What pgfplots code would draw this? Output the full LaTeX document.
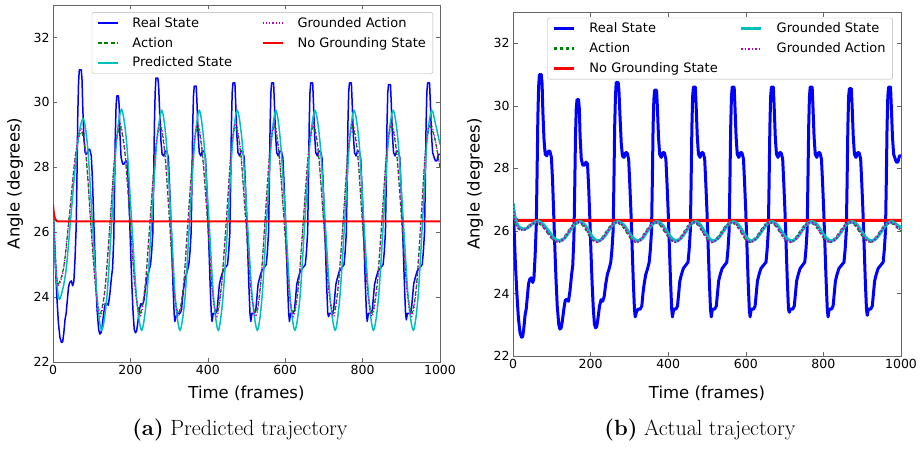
\documentclass[border=0pt]{standalone}
\usepackage{fontspec}
\usepackage{pgfplots}
\usepackage{pgfplotstable}
\pgfplotsset{compat=1.18}
\newfontfamily\dejavu{DejaVu Sans}

\definecolor{mb}{rgb}{0,0,1}
\definecolor{mg}{rgb}{0,0.5,0}
\definecolor{mr}{rgb}{1,0,0}
\definecolor{mc}{rgb}{0,0.75,0.75}
\definecolor{mm}{rgb}{0.75,0,0.75}

% real state (same run in both panels)
\pgfplotstableread{
x y
0 26.85
3 26.0
6 25.0
10 24.0
14 23.2
18 22.75
22 22.6
25 22.62
28 22.9
31 23.3
34 23.5
37 23.9
40 24.3
43 24.45
47 24.5
51 24.35
54 24.5
57 25.2
60 26.2
62 27.8
64 29.6
66 30.6
68 31.0
73 31.0
75 30.7
77 29.8
80 28.9
83 28.45
87 28.4
91 28.55
95 28.55
99 28.35
102 27.6
105 26.5
108 25.4
111 24.4
114 23.6
118 23.0
121 22.86
124 22.9
127 23.1
131 23.5
135 23.8
139 23.8
143 23.75
147 24.1
151 24.6
154 24.9
157 25.8
159 27.3
161 29.0
163 29.9
165 30.2
169 30.2
171 29.9
173 29.0
176 28.3
180 28.1
184 28.1
188 28.2
192 28.15
195 27.4
198 26.4
201 25.3
204 24.3
207 23.5
210 23.0
213 22.9
216 22.95
219 23.2
223 23.6
227 23.8
231 23.75
235 23.9
239 24.3
243 24.6
248 24.8
252 25.0
255 25.4
258 26.0
260 27.5
262 29.3
264 30.3
266 30.75
271 30.75
273 30.5
276 29.6
279 28.8
282 28.4
286 28.35
290 28.5
294 28.5
298 28.3
301 27.5
304 26.6
307 25.5
310 24.4
313 23.5
315 23.25
318 23.4
322 23.5
328 23.5
332 23.6
335 24.0
338 24.3
342 24.6
347 24.8
351 25.0
354 25.4
357 26.0
359 27.5
361 29.3
363 30.2
365 30.5
370 30.5
372 30.0
375 29.0
378 28.45
382 28.35
386 28.5
390 28.5
394 28.3
397 27.5
400 26.6
403 25.5
406 24.4
409 23.5
411 23.25
414 23.5
420 23.5
424 23.6
427 24.0
430 24.4
434 24.6
439 24.8
451 25.0
454 25.4
457 26.0
459 27.5
461 29.3
463 30.3
465 30.6
470 30.6
472 30.0
475 29.0
478 28.45
482 28.35
486 28.5
490 28.5
494 28.3
497 27.5
500 26.6
503 25.5
506 24.4
509 23.5
511 23.25
514 23.5
520 23.5
524 23.6
527 24.0
530 24.4
534 24.6
539 24.8
551 25.0
554 25.4
557 26.0
559 27.5
561 29.3
563 30.3
565 30.6
570 30.6
572 30.0
575 29.0
578 28.45
582 28.35
586 28.5
590 28.5
594 28.3
597 27.5
600 26.6
603 25.5
606 24.4
609 23.5
611 23.25
614 23.5
620 23.5
624 23.6
627 24.0
630 24.4
634 24.6
639 24.8
652 25.0
655 25.4
658 26.0
660 27.5
662 29.3
664 30.3
666 30.6
671 30.6
673 30.0
676 29.0
679 28.45
683 28.35
687 28.5
691 28.5
695 28.3
698 27.5
701 26.6
704 25.5
707 24.4
710 23.5
712 23.4
715 23.5
721 23.5
725 23.6
728 24.0
731 24.4
735 24.6
740 24.8
752 25.0
755 25.4
758 26.0
760 27.5
762 29.3
764 30.3
766 30.6
771 30.6
773 30.0
776 29.0
779 28.45
783 28.35
787 28.5
791 28.5
795 28.3
798 27.5
801 26.6
804 25.5
807 24.4
810 23.5
812 23.25
815 23.5
821 23.5
825 23.6
828 24.0
831 24.4
835 24.6
840 24.8
853 25.0
856 25.4
859 26.0
861 27.5
863 29.3
865 30.3
867 30.55
872 30.55
874 30.0
877 29.0
880 28.45
884 28.35
888 28.5
892 28.5
896 28.3
899 27.5
902 26.6
905 25.5
908 24.4
911 23.5
913 23.3
916 23.5
922 23.5
926 23.6
929 24.0
932 24.4
936 24.6
941 24.8
954 25.0
957 25.4
960 26.0
962 27.5
964 29.3
966 30.3
968 30.6
973 30.6
975 30.0
978 29.0
981 28.45
985 28.3
988 28.2
992 28.2
996 28.4
1000 28.4
}\realstate

% panel (a): predicted state
\pgfplotstableread{
x y
0 26.8
6 25.1
12 24.2
18 23.95
33 24.76
48 26.73
63 28.69
78 29.5
90 28.55
102 26.24
114 23.93
126 22.98
139 23.97
152 26.38
164 28.79
177 29.78
190 28.79
203 26.38
216 23.97
229 22.98
242 23.97
255 26.37
268 28.76
281 29.75
293 28.76
305 26.37
316 23.97
328 22.98
341 23.97
353 26.37
366 28.76
378 29.75
390 28.76
403 26.37
415 23.97
427 22.98
439 23.97
452 26.37
464 28.76
476 29.75
489 28.76
502 26.37
515 23.97
528 22.98
540 23.97
552 26.37
564 28.76
576 29.75
588 28.76
601 26.37
613 23.97
625 22.98
638 23.97
651 26.37
664 28.76
677 29.75
690 28.76
703 26.37
716 23.97
729 22.98
741 23.97
754 26.37
766 28.76
778 29.75
791 28.76
803 26.37
816 23.97
828 22.98
841 23.97
854 26.37
866 28.76
879 29.75
892 28.76
905 26.37
918 23.97
931 22.98
943 23.97
955 26.37
966 28.76
978 29.75
989 29.3
1000 28.7
}\predstate

% panel (a): grounded action (ym) and action (yg)
\pgfplotstableread{
x ym yg
0 26.8 26.8
4 25.8 25.8
8 24.9 24.95
13 24.35 24.4
28 24.9 24.95
43 26.6 26.6
58 28.4 28.35
73 29.2 29.1
86 28.3 28.25
98 26.2 26.2
110 24.27 24.34
122 23.4 23.5
135 24.27 24.34
148 26.38 26.38
160 28.48 28.41
173 29.35 29.25
186 28.48 28.41
199 26.38 26.38
212 24.27 24.34
225 23.4 23.5
238 24.27 24.34
251 26.38 26.38
264 28.48 28.41
277 29.35 29.25
289 28.48 28.41
301 26.38 26.38
312 24.27 24.34
324 23.4 23.5
337 24.27 24.34
349 26.38 26.38
362 28.48 28.41
374 29.35 29.25
386 28.48 28.41
399 26.38 26.38
411 24.27 24.34
423 23.4 23.5
435 24.27 24.34
448 26.38 26.38
460 28.48 28.41
472 29.35 29.25
485 28.48 28.41
498 26.38 26.38
511 24.27 24.34
524 23.4 23.5
536 24.27 24.34
548 26.38 26.38
560 28.48 28.41
572 29.35 29.25
584 28.48 28.41
597 26.38 26.38
609 24.27 24.34
621 23.4 23.5
634 24.27 24.34
647 26.38 26.38
660 28.48 28.41
673 29.35 29.25
686 28.48 28.41
699 26.38 26.38
712 24.27 24.34
725 23.4 23.5
737 24.27 24.34
750 26.38 26.38
762 28.48 28.41
774 29.35 29.25
787 28.48 28.41
799 26.38 26.38
812 24.27 24.34
824 23.4 23.5
837 24.27 24.34
850 26.38 26.38
862 28.48 28.41
875 29.35 29.25
888 28.48 28.41
901 26.38 26.38
914 24.27 24.34
927 23.4 23.5
939 24.27 24.34
951 26.38 26.38
962 28.48 28.41
974 29.35 29.25
987 28.9 28.85
1000 28.0 28.0
}\predaction

% panel (b): grounded state
\pgfplotstableread{
x y
0 26.88
6 26.4
14 26.15
28 26.05
40 26.12
52 26.25
64 26.32
78 26.21
92 25.99
106 25.77
120 25.68
133 25.77
146 25.99
159 26.21
172 26.30
184 26.21
196 25.99
207 25.77
219 25.68
232 25.77
245 25.99
258 26.21
271 26.30
284 26.21
297 25.99
309 25.77
322 25.68
334 25.77
346 25.99
359 26.21
371 26.30
384 26.21
396 25.99
409 25.77
421 25.68
433 25.77
446 25.99
458 26.21
471 26.30
482 26.21
493 25.99
505 25.77
516 25.68
529 25.77
542 25.99
555 26.21
568 26.30
580 26.21
592 25.99
603 25.77
615 25.68
628 25.77
641 25.99
654 26.21
667 26.30
680 26.21
692 25.99
705 25.77
718 25.68
731 25.77
744 25.99
757 26.21
770 26.30
783 26.21
795 25.99
808 25.77
821 25.68
834 25.77
847 25.99
860 26.21
873 26.30
886 26.21
898 25.99
911 25.77
924 25.68
937 25.77
950 25.99
963 26.21
976 26.30
988 26.21
1000 26.1
}\groundstate

% panel (b): grounded action (ym) and action (yg)
\pgfplotstableread{
x ym yg
0 26.85 26.85
3 26.4 26.4
11 26.12 26.13
25 26.02 26.03
37 26.10 26.11
49 26.22 26.22
61 26.28 26.28
75 26.19 26.19
89 25.96 25.97
103 25.73 25.75
117 25.64 25.66
130 25.73 25.75
143 25.96 25.97
156 26.19 26.19
169 26.28 26.28
181 26.19 26.19
193 25.96 25.97
204 25.73 25.75
216 25.64 25.66
229 25.73 25.75
242 25.96 25.97
255 26.19 26.19
268 26.28 26.28
281 26.19 26.19
294 25.96 25.97
306 25.73 25.75
319 25.64 25.66
331 25.73 25.75
343 25.96 25.97
356 26.19 26.19
368 26.28 26.28
381 26.19 26.19
393 25.96 25.97
406 25.73 25.75
418 25.64 25.66
430 25.73 25.75
443 25.96 25.97
455 26.19 26.19
468 26.28 26.28
479 26.19 26.19
490 25.96 25.97
502 25.73 25.75
513 25.64 25.66
526 25.73 25.75
539 25.96 25.97
552 26.19 26.19
565 26.28 26.28
577 26.19 26.19
589 25.96 25.97
600 25.73 25.75
612 25.64 25.66
625 25.73 25.75
638 25.96 25.97
651 26.19 26.19
664 26.28 26.28
677 26.19 26.19
689 25.96 25.97
702 25.73 25.75
715 25.64 25.66
728 25.73 25.75
741 25.96 25.97
754 26.19 26.19
767 26.28 26.28
780 26.19 26.19
792 25.96 25.97
805 25.73 25.75
818 25.64 25.66
831 25.73 25.75
844 25.96 25.97
857 26.19 26.19
870 26.28 26.28
883 26.19 26.19
895 25.96 25.97
908 25.73 25.75
921 25.64 25.66
934 25.73 25.75
947 25.96 25.97
960 26.19 26.19
973 26.28 26.28
985 26.19 26.19
1000 26.0 26.0
}\groundaction

\pgfplotsset{
  traj/.style={
    scale only axis,
    xmin=0, xmax=1000, ymin=22, ymax=33,
    xtick={0,200,400,600,800,1000},
    xticklabels={0,200,400,600,800,1000},
    ytick={22,24,26,28,30,32},
    yticklabels={22,24,26,28,30,32},
    tick align=inside,
    major tick length=4.5pt,
    axis line style={black!60, line width=0.7pt},
    every tick/.style={black!60, line width=0.6pt},
    /pgf/number format/assume math mode=true,
    tick label style={font=\dejavu\fontsize{12.5}{12.5}\selectfont, black},
    label style={font=\dejavu\fontsize{16.5}{18}\selectfont},
    xlabel={Time (frames)},
    ylabel={Angle (degrees)},
    ylabel style={at={(axis description cs:-0.098,0.5)}, anchor=center},
    legend columns=2,
    legend cell align=left,
    legend image code/.code={\draw[##1] (0pt,0pt) -- (20pt,0pt);},
    legend style={font=\dejavu\fontsize{13}{15}\selectfont,
      draw=black!30, rounded corners=2pt, anchor=north east,
      inner xsep=5pt, inner ysep=3pt, row sep=4.5pt,
      /tikz/every odd column/.style={column sep=12pt}},
  }
}

\begin{document}
\begin{tikzpicture}
\useasboundingbox (0pt,0pt) rectangle (923pt,448pt);

% (a) predicted trajectory
\begin{axis}[traj, at={(53pt,86pt)}, anchor=south west,
  width=387pt, height=357pt,
  xlabel style={at={(axis description cs:0.5,0)}, anchor=center, yshift=-31pt},
  legend style={at={(axis description cs:0.982,0.980)},
    /tikz/column 2/.style={column sep=28pt}}]
\addplot[color=mb, line width=1.5pt, line join=round, forget plot] table[x=x, y=y] {\realstate};
\addplot[color=mg, line width=1.2pt, dash pattern=on 4pt off 2.5pt, smooth, forget plot] table[x=x, y=yg] {\predaction};
\addplot[color=mc, line width=1.5pt, smooth, forget plot] table[x=x, y=y] {\predstate};
\addplot[color=mm, line width=1.2pt, dash pattern=on 1.2pt off 2pt, smooth, forget plot] table[x=x, y=ym] {\predaction};
\addplot[color=mr, line width=2pt, forget plot] coordinates {(0,26.85) (2,26.6) (4,26.47) (6,26.4) (9,26.35) (14,26.33) (1000,26.33)};

\addlegendimage{color=mb, line width=1.5pt}
\addlegendentry{Real State}
\addlegendimage{color=mm, line width=1.2pt, dash pattern=on 1.2pt off 2pt}
\addlegendentry{Grounded Action}
\addlegendimage{color=mg, line width=1.2pt, dash pattern=on 4pt off 2.5pt}
\addlegendentry{Action}
\addlegendimage{color=mr, line width=1.5pt}
\addlegendentry{No Grounding State}
\addlegendimage{color=mc, line width=1.5pt}
\addlegendentry{Predicted State}
\end{axis}

% (b) actual trajectory
\begin{axis}[traj, at={(513pt,92pt)}, anchor=south west,
  width=388pt, height=344pt,
  xlabel style={at={(axis description cs:0.5,0)}, anchor=center, yshift=-37pt},
  legend style={at={(axis description cs:0.979,0.983)},
    /tikz/column 2/.style={column sep=20pt}}]
\addplot[color=mb, line width=3pt, line join=round, forget plot] table[x=x, y=y] {\realstate};
\addplot[color=mg, line width=3pt, dash pattern=on 3pt off 3pt, smooth, forget plot] table[x=x, y=yg] {\groundaction};
\addplot[color=mr, line width=3pt, forget plot] coordinates {(0,26.85) (2,26.6) (4,26.45) (7,26.38) (12,26.34) (1000,26.34)};
\addplot[color=mc, line width=3pt, smooth, forget plot] table[x=x, y=y] {\groundstate};
\addplot[color=mm, line width=2pt, dash pattern=on 1.5pt off 2pt, smooth, forget plot] table[x=x, y=ym] {\groundaction};

\addlegendimage{color=mb, line width=3pt}
\addlegendentry{Real State}
\addlegendimage{color=mc, line width=3pt}
\addlegendentry{Grounded State}
\addlegendimage{color=mg, line width=3pt, dash pattern=on 3pt off 3pt}
\addlegendentry{Action}
\addlegendimage{color=mm, line width=2pt, dash pattern=on 1.5pt off 2pt}
\addlegendentry{Grounded Action}
\addlegendimage{color=mr, line width=3pt}
\addlegendentry{No Grounding State}
\end{axis}

\node[font=\fontsize{22}{26}\selectfont] at (240pt,18pt) {\textbf{(a)} Predicted trajectory};
\node[font=\fontsize{22}{26}\selectfont] at (700pt,18pt) {\textbf{(b)} Actual trajectory};
\end{tikzpicture}
\end{document}
